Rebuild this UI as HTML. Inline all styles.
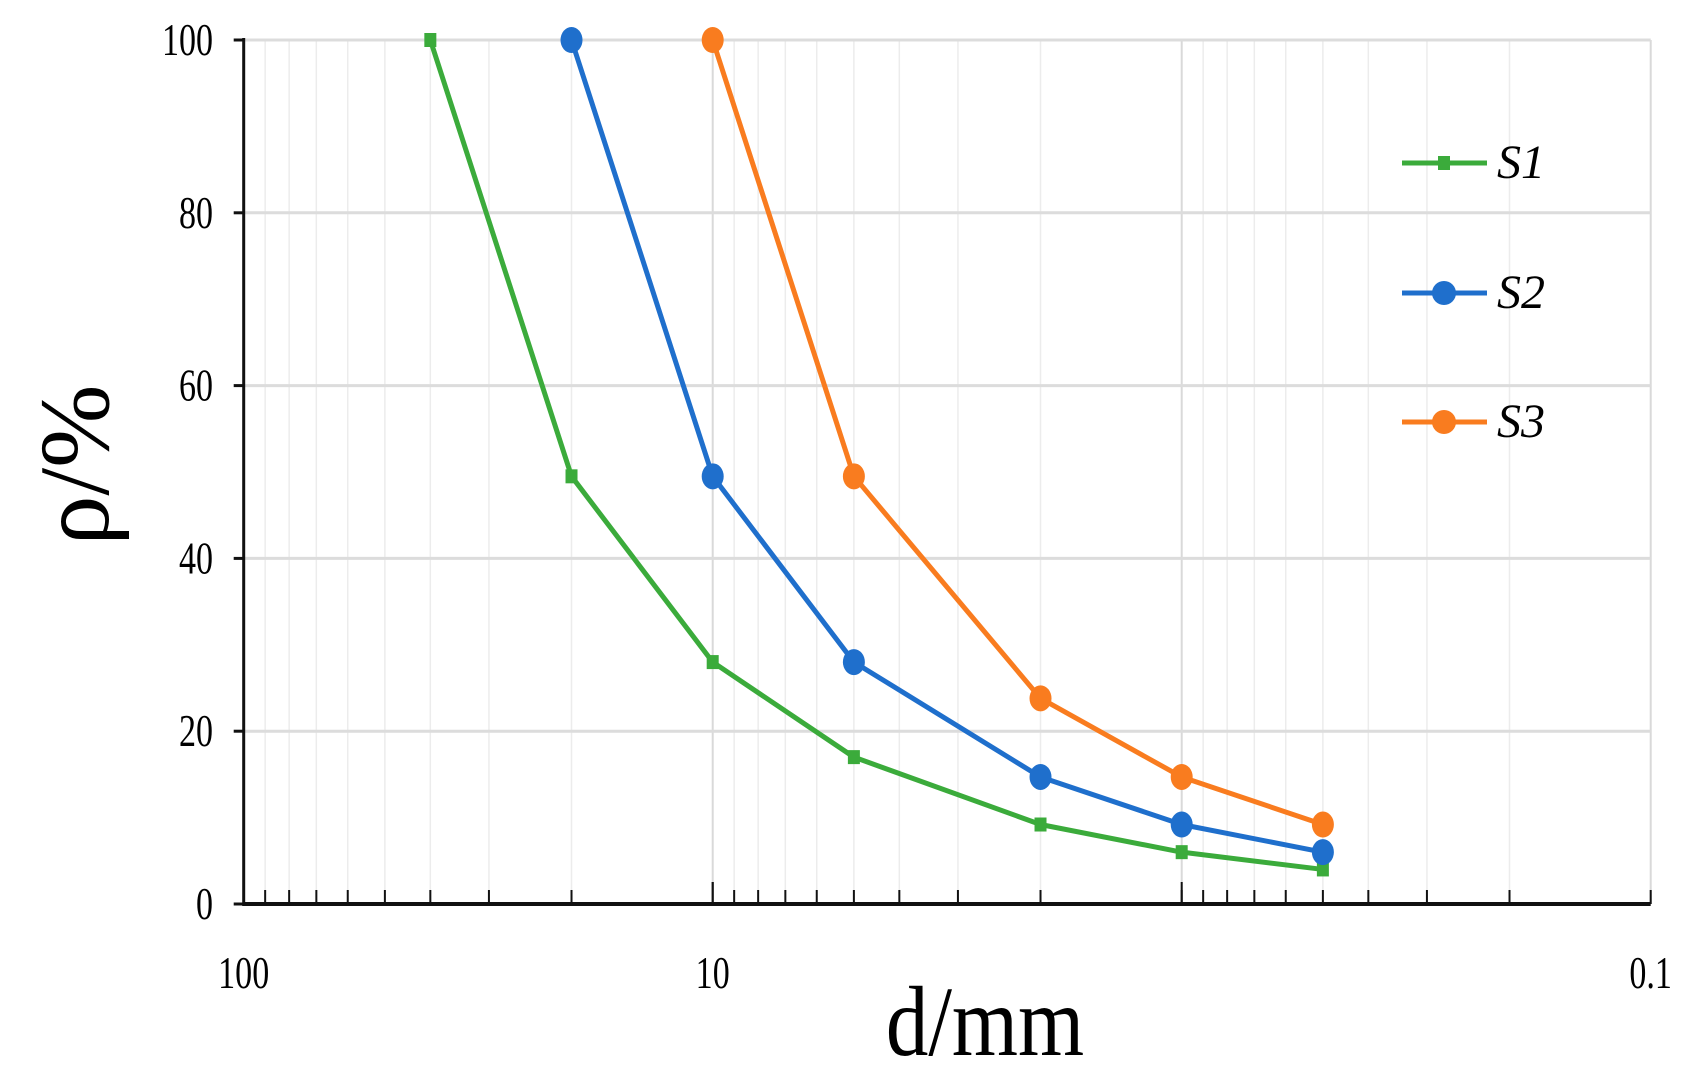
<!DOCTYPE html>
<html><head><meta charset="utf-8"><style>
html,body{margin:0;padding:0;background:#fff;}
svg{display:block;}
</style></head><body>
<svg id="s" width="1695" height="1080" xmlns="http://www.w3.org/2000/svg" font-family="Liberation Serif, serif"></svg>
<script>
const X0=243.7,DEC=469,Y0=904,YU=8.64;
const px=d=>X0+Math.log10(100/d)*DEC;
const py=v=>Y0-v*YU;
let h='';
for(let e=0;e<3;e++){for(let m=2;m<=9;m++){const d=100/Math.pow(10,e)*m/10; const x=px(d);
 h+=`<line x1="${x}" y1="${py(100)}" x2="${x}" y2="${Y0}" stroke="#ececec" stroke-width="1.5"/>`;}}
[10,1,0.1].forEach(d=>{const x=px(d);h+=`<line x1="${x}" y1="${py(100)}" x2="${x}" y2="${Y0}" stroke="#d9d9d9" stroke-width="2"/>`;});
[20,40,60,80,100].forEach(v=>{h+=`<line x1="${X0}" y1="${py(v)}" x2="${px(0.1)}" y2="${py(v)}" stroke="#dcdcdc" stroke-width="3"/>`;});
h+=`<line x1="${X0}" y1="${py(100)-2}" x2="${X0}" y2="${Y0+2}" stroke="#111" stroke-width="3"/>`;
h+=`<line x1="${X0}" y1="${Y0}" x2="${px(0.1)}" y2="${Y0}" stroke="#111" stroke-width="4"/>`;
[0,20,40,60,80,100].forEach(v=>{h+=`<line x1="${X0-10}" y1="${py(v)}" x2="${X0}" y2="${py(v)}" stroke="#111" stroke-width="3"/>`;
 h+=`<text x="213" y="${py(v)+15}" font-size="46" text-anchor="end" transform="translate(213 0) scale(0.74 1) translate(-213 0)">${v}</text>`;});
for(let e=0;e<3;e++){for(let m=1;m<=10;m++){const d=100/Math.pow(10,e)*m/10; if(d>100||d<0.1)continue; const x=px(d);
 const major=(m==10||(m==1&&e==0)); h+=`<line x1="${x}" y1="${Y0}" x2="${x}" y2="${Y0-(major?22:14)}" stroke="#111" stroke-width="2"/>`;}}
[[100,'100'],[10,'10'],[0.1,'0.1']].forEach(([d,t])=>{const x=px(d);h+=`<text x="${x}" y="988" font-size="46" text-anchor="middle" transform="translate(${x} 0) scale(0.74 1) translate(${-x} 0)">${t}</text>`;});
h+=`<text x="985" y="1055" font-size="100" text-anchor="middle" transform="translate(985 0) scale(0.85 1) translate(-985 0)">d/mm</text>`;
h+=`<text x="0" y="0" font-size="100" text-anchor="middle" transform="translate(108 465) rotate(-90)">ρ/%</text>`;
const xs=[40,20,10,5,2,1,0.5];
const S=[
 {c:'#3bab3b',x:xs,y:[100,49.5,28,17,9.2,6,4],m:'sq'},
 {c:'#1f6fcc',x:xs.slice(1),y:[100,49.5,28,14.7,9.2,6],m:'c'},
 {c:'#f97c1f',x:xs.slice(2),y:[100,49.5,23.8,14.7,9.2],m:'c'}];
S.forEach(s=>{h+=`<polyline fill="none" stroke="${s.c}" stroke-width="5" stroke-linejoin="round" points="${s.x.map((d,i)=>px(d)+','+py(s.y[i])).join(' ')}"/>`;
 s.x.forEach((d,i)=>{const x=px(d),y=py(s.y[i]); h+= s.m=='c'?`<ellipse cx="${x}" cy="${y}" rx="11" ry="13" fill="${s.c}"/>`:`<rect x="${x-6}" y="${y-7}" width="12" height="14" fill="${s.c}"/>`;});});
[[163,'S1',0],[293,'S2',1],[422,'S3',2]].forEach(([y,t,i])=>{const s=S[i];
 h+=`<line x1="1402" y1="${y}" x2="1487" y2="${y}" stroke="${s.c}" stroke-width="5"/>`;
 h+= s.m=='c'?`<circle cx="1444" cy="${y}" r="12" fill="${s.c}"/>`:`<rect x="1438" y="${y-7}" width="12" height="14" fill="${s.c}"/>`;
 h+=`<text x="1497" y="${y+15}" font-size="48" font-style="italic">${t}</text>`;});
document.getElementById('s').innerHTML=h;
</script>
</body></html>
